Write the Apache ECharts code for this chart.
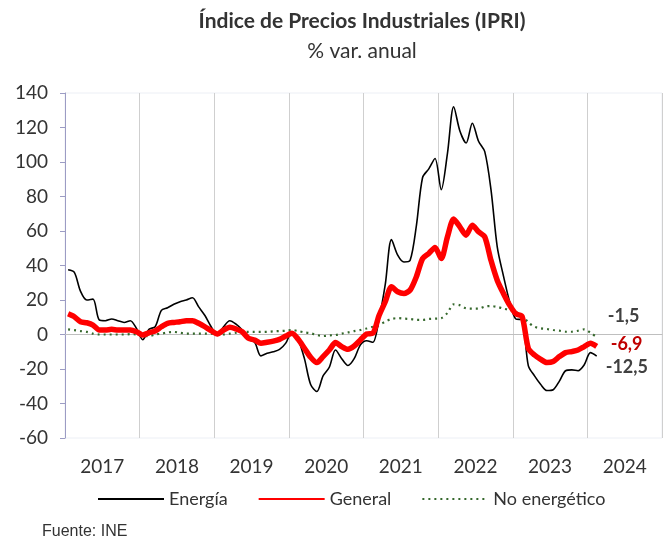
<!DOCTYPE html>
<html>
<head>
<meta charset="utf-8">
<script src="https://cdn.jsdelivr.net/npm/echarts@6/dist/echarts.min.js"></script>
<style>
  html, body { margin: 0; padding: 0; background: #fff; }
  #chart { width: 671px; height: 539px; }
</style>
</head>
<body>
<div id="chart"></div>
<script>
// años del eje (cada año = 12 meses)
const years = ['2017', '2018', '2019', '2020', '2021', '2022', '2023', '2024'];

// % var. anual, ene 2017 - feb 2024
const energia = [
  37.5, 36, 25, 20, 20.5, 8.5, 8, 9, 8, 7, 8, 3.5,
  -3, 3, 4.5, 14, 15.5, 17.5, 19, 20, 21.3, 16, 11, 4.5,
  -0.5, 4.5, 8, 6, 2.6, -2.8, -4.5, -12.4, -10.9, -10, -8.6, -5,
  1.6, -3, -14, -29, -33, -24, -19, -9, -14, -18, -14, -6,
  -3.6, -4.5, 9, 29, 55, 46, 42, 43, 63, 91, 96, 102,
  84, 105, 132, 118, 111, 122.5, 112, 106, 84, 51, 34, 19,
  9, 8.5, -18, -24, -29, -32.5, -32, -27, -21, -20.5, -21, -17.5,
  -10.5, -12.5
];
const general = [
  12, 10.3, 7.4, 6.8, 5.5, 2.6, 2.6, 3, 2.6, 2.6, 2.6, 1.6,
  -0.3, 1, 2, 4.5, 6.5, 7, 7.4, 8, 8, 6.5, 4.5, 2.2,
  0.3, 2.6, 4.2, 3.2, 1.6, -2.2, -3.2, -5.1, -4.5, -3.8, -2.8, -0.9,
  0.7, -2.8, -8, -13.2, -16.3, -12.8, -9, -4.7, -7, -8.6, -6.7, -3.2,
  0.3, 0.7, 11, 19, 27.7, 24.8, 23.8, 25.8, 33.5, 44, 47, 50.5,
  44, 56.6, 67, 62.4, 57.6, 63.4, 59.5, 56.6, 43, 31.5, 23.8, 17,
  12, 10.5, -8, -11.9, -14.4, -16.3, -15.7, -12.8, -10.5, -9.9, -9, -7,
  -5.1, -6.9
];
const noEnergetico = [
  3, 2.5, 2, 1.5, 0.5, 0, 0, 0, 0, 0, 0.2, 0,
  -0.8, -1, 0, 0.5, 1.2, 1.5, 1, 0.5, 0.5, 0.5, 0.5, 0.5,
  0, 0, 0.5, 1, 1.5, 1.5, 1.5, 1.5, 1.5, 1.8, 2, 2.2,
  2.6, 2, 1.2, 0.7, -0.3, -0.9, -0.5, -0.3, 0.5, 1.2, 2, 2.6,
  3.5, 4.5, 5.5, 7.5, 9, 9.5, 9.2, 9, 8.5, 8.5, 9, 9.2,
  9.5, 12.5, 17.5, 17, 15.2, 15, 15, 16.2, 16.5, 16, 15, 14.2,
  13, 11, 7, 4.5, 3.6, 3.2, 2.6, 2.2, 1.6, 1.6, 2.2, 3.0,
  1, -1.5
];

const months = [];
years.forEach(function (y) {
  for (let m = 1; m <= 12; m++) months.push(y + '-' + (m < 10 ? '0' + m : m));
});

// etiqueta con el último dato, con coma decimal
const lastLabel = function (color, offset) {
  return {
    show: true,
    distance: 0,
    offset: offset,
    color: color,
    fontFamily: 'Lato',
    fontWeight: 'bold',
    fontSize: 18,
    formatter: function (p) { return Number(p.value).toFixed(1).replace('.', ','); }
  };
};

const myChart = echarts.init(document.getElementById('chart'));
myChart.setOption({
  animation: false,
  title: [{
    text: 'Índice de Precios Industriales (IPRI)',
    subtext: '% var. anual',
    left: 357,
    textAlign: 'center',
    top: 6,
    itemGap: 9,
    textStyle: { fontFamily: 'Lato', fontWeight: 'bold', fontSize: 21, color: '#333' },
    subtextStyle: { fontFamily: 'Lato', fontSize: 21, color: '#333' }
  }, {
    text: 'Fuente: INE',
    left: 37,
    top: 519,
    textStyle: { fontFamily: 'Liberation Sans', fontWeight: 'normal', fontSize: 16, color: '#333' }
  }],
  legend: {
    top: 485,
    left: 92,
    itemWidth: 66,
    itemHeight: 12,
    itemGap: 30,
    itemStyle: { opacity: 0 },
    textStyle: { fontFamily: 'Lato', fontSize: 18, color: '#333' },
    data: ['Energía', 'General', 'No energético']
  },
  grid: {
    left: 65, right: 9, top: 93, bottom: 101,
    show: true, borderColor: '#eceff5', borderWidth: 1
  },
  xAxis: [{
    type: 'category',
    data: months,
    boundaryGap: true,
    position: 'bottom',
    axisLine: { onZero: true, lineStyle: { color: '#bfbfbf', width: 1 } },
    axisTick: { show: false },
    axisLabel: { show: false },
    splitLine: {
      show: true,
      interval: function (i) { return i % 12 === 0; },
      lineStyle: { color: '#cfcfcf', width: 1 }
    }
  }, {
    type: 'category',
    data: years,
    boundaryGap: true,
    position: 'bottom',
    axisLine: { show: false, onZero: false },
    axisTick: { show: false },
    splitLine: { show: false },
    axisLabel: { fontFamily: 'Lato', fontSize: 19, color: '#333', margin: 19 }
  }],
  yAxis: {
    type: 'value',
    min: -60,
    max: 140,
    interval: 20,
    axisLine: { show: true, lineStyle: { color: '#9c9cc4', width: 1 } },
    axisTick: { show: true, length: 5, lineStyle: { color: '#9c9cc4' } },
    axisLabel: { fontFamily: 'Lato', fontSize: 19, color: '#333', margin: 17 },
    splitLine: { show: false }
  },
  series: [{
    name: 'Energía',
    type: 'line',
    data: energia,
    smooth: 0.3,
    symbol: 'none',
    z: 3,
    lineStyle: { color: '#000', width: 1.6 },
    itemStyle: { color: '#000' },
    endLabel: lastLabel('#404040', [9, 11])
  }, {
    name: 'General',
    type: 'line',
    data: general,
    smooth: 0.25,
    symbol: 'none',
    z: 4,
    lineStyle: { color: '#ff0000', width: 5.5 },
    itemStyle: { color: '#ff0000' },
    endLabel: lastLabel('#c00000', [14, -2])
  }, {
    name: 'No energético',
    type: 'line',
    data: noEnergetico,
    smooth: 0.3,
    symbol: 'none',
    z: 2,
    lineStyle: { color: '#35682c', width: 2.2, type: [2, 4] },
    itemStyle: { color: '#35682c' },
    endLabel: lastLabel('#404040', [11, -21])
  }]
});
</script>
</body>
</html>
